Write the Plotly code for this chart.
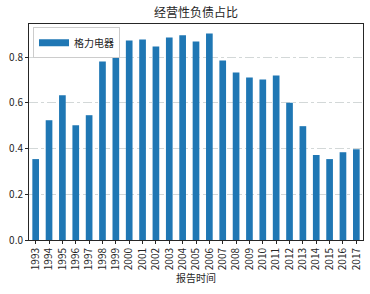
import plotly.graph_objects as go

years = [str(y) for y in range(1993, 2018)]
values = [0.354, 0.524, 0.633, 0.502, 0.546, 0.781, 0.834, 0.873, 0.877, 0.847,
          0.886, 0.896, 0.868, 0.903, 0.785, 0.733, 0.711, 0.702, 0.720, 0.601,
          0.498, 0.372, 0.354, 0.384, 0.397]
series_name = "格力电器"
title = "经营性负债占比"
x_title = "报告时间"
y_ticks = [0.0, 0.2, 0.4, 0.6, 0.8]

font = "Noto Sans CJK SC, DejaVu Sans, sans-serif"
blue = "#1f77b4"

fig = go.Figure()
fig.add_trace(go.Bar(x=list(range(len(years))), y=values, name=series_name,
                     marker=dict(color=blue, line=dict(width=0)), width=0.5,
                     showlegend=False))
# legend entry drawn as a wide patch (matplotlib style)
fig.add_trace(go.Scatter(x=[None], y=[None], mode="lines", name=series_name,
                         line=dict(color=blue, width=7), showlegend=True))

fig.update_layout(
    width=370, height=294,
    margin=dict(l=29, r=7, t=24, b=54),
    paper_bgcolor="white", plot_bgcolor="white",
    font=dict(family=font, size=10, color="#262626"),
    title=dict(text=title, x=0.53, xanchor="center", y=0.955, yanchor="middle",
               font=dict(size=12, color="#262626")),
    showlegend=True,
    legend=dict(x=0.012, y=0.985, xanchor="left", yanchor="top",
                bgcolor="white", bordercolor="#cccccc", borderwidth=1,
                font=dict(size=10), itemwidth=30, tracegroupgap=0),
)
fig.update_xaxes(
    range=[-0.5, len(years) - 0.5],
    tickmode="array", tickvals=list(range(len(years))), ticktext=years,
    tickangle=-90, ticks="outside", ticklen=3, tickcolor="#262626",
    showline=True, linecolor="#262626", linewidth=1, mirror=True,
    showgrid=False, zeroline=False,
    title=dict(text=x_title, font=dict(size=10), standoff=4),
    tickfont=dict(size=10),
)
fig.update_yaxes(
    range=[0, 0.945],
    tickmode="array", tickvals=y_ticks, ticktext=[f"{v:.1f}" for v in y_ticks],
    ticks="outside", ticklen=3, tickcolor="#262626",
    showline=True, linecolor="#262626", linewidth=1, mirror=True,
    showgrid=True, gridcolor="#d3d8d8", griddash="dashdot", gridwidth=1,
    zeroline=False, tickfont=dict(size=10),
)

fig.write_html("out.html")
